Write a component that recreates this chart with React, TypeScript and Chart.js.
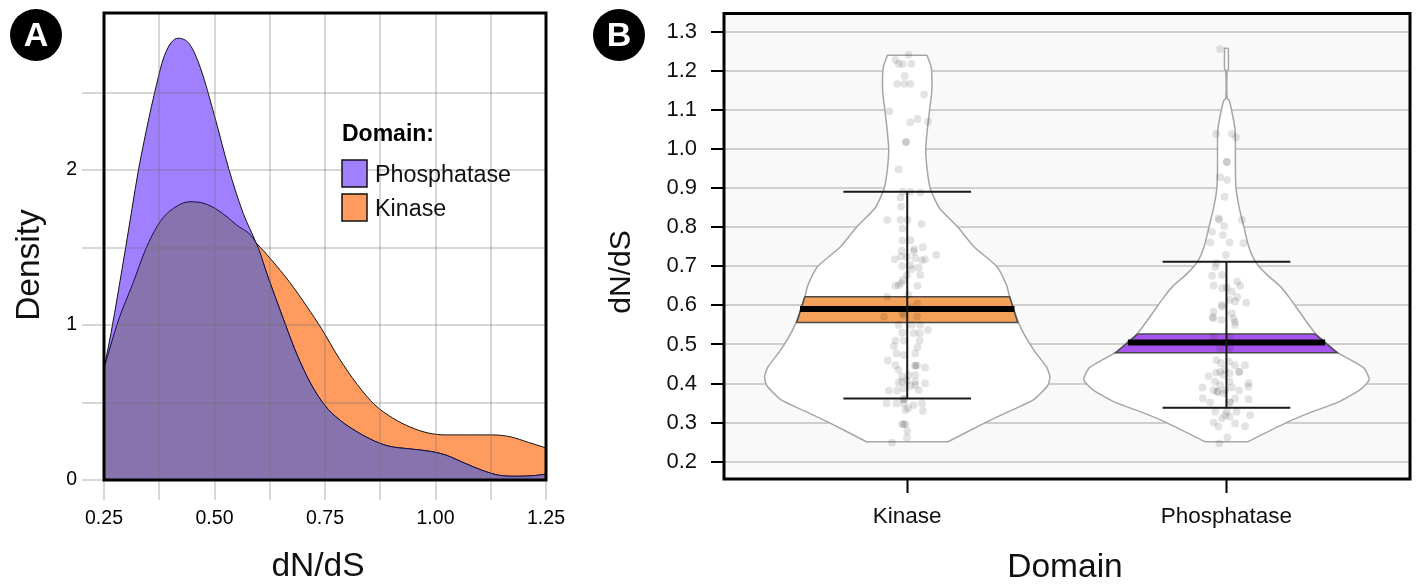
import React, { useEffect, useRef } from "react";
import { Chart, registerables } from "chart.js";

Chart.register(...registerables);

const FONT = '"Liberation Sans", Arial, sans-serif';

// Panel A: density curves
const phosphataseX = [0.25, 0.266, 0.299, 0.328, 0.341, 0.363, 0.387, 0.417, 0.444, 0.468, 0.5, 0.532, 0.565, 0.594, 0.621, 0.653, 0.685, 0.718, 0.75, 0.782, 0.823, 0.863, 0.895, 0.944, 0.992, 1.024, 1.065, 1.105, 1.145, 1.185, 1.226, 1.25];
const phosphataseDensity = [0.72, 0.95, 1.5, 2.0, 2.19, 2.48, 2.74, 2.85, 2.81, 2.66, 2.35, 2.01, 1.72, 1.53, 1.31, 1.06, 0.82, 0.62, 0.48, 0.39, 0.31, 0.25, 0.218, 0.2, 0.183, 0.16, 0.11, 0.063, 0.03, 0.024, 0.029, 0.038];
const kinaseX = [0.25, 0.282, 0.315, 0.347, 0.379, 0.411, 0.444, 0.476, 0.508, 0.548, 0.594, 0.629, 0.669, 0.71, 0.742, 0.782, 0.823, 0.863, 0.903, 0.944, 0.984, 1.024, 1.065, 1.129, 1.169, 1.21, 1.25];
const kinaseDensity = [0.72, 1.025, 1.266, 1.507, 1.675, 1.76, 1.795, 1.785, 1.74, 1.65, 1.53, 1.42, 1.28, 1.115, 0.977, 0.785, 0.616, 0.484, 0.4, 0.34, 0.303, 0.291, 0.291, 0.291, 0.279, 0.243, 0.207];
const crossingX = 0.594;
const densityXTicks = [0.25, 0.375, 0.5, 0.625, 0.75, 0.875, 1.0, 1.125, 1.25];
const densityYTicks = [0, 0.5, 1, 1.5, 2, 2.5];
const legendTitle = "Domain:";
const legendLabels = ["Phosphatase", "Kinase"];

// Panel B: violins
const categories = ["Kinase", "Phosphatase"];
const ratioTicks = [0.2, 0.3, 0.4, 0.5, 0.6, 0.7, 0.8, 0.9, 1.0, 1.1, 1.2, 1.3];
const kinaseViolinY = [1.24, 1.21, 1.15, 1.1, 1.05, 1.0, 0.95, 0.9, 0.85, 0.8, 0.75, 0.7, 0.65, 0.62, 0.5455, 0.486, 0.443, 0.4175, 0.395, 0.358, 0.33, 0.302, 0.251];
const kinaseViolinW = [0.062, 0.075, 0.077, 0.07, 0.063, 0.058, 0.062, 0.072, 0.1, 0.159, 0.209, 0.28, 0.312, 0.321, 0.354, 0.396, 0.436, 0.447, 0.44, 0.395, 0.322, 0.249, 0.128];
const phosphataseViolinY = [1.258, 1.205, 1.2, 1.13, 1.125, 1.1, 1.05, 1.0, 0.95, 0.9, 0.85, 0.8, 0.75, 0.71, 0.68, 0.65, 0.62, 0.53, 0.48, 0.44, 0.41, 0.385, 0.353, 0.328, 0.302, 0.251];
const phosphataseViolinW = [0.006, 0.006, 0.002, 0.002, 0.008, 0.016, 0.027, 0.028, 0.028, 0.03, 0.04, 0.055, 0.07, 0.092, 0.125, 0.167, 0.197, 0.277, 0.347, 0.43, 0.447, 0.42, 0.352, 0.27, 0.193, 0.066];

const kinaseBand = { top: 0.622, bottom: 0.556, mean: 0.591, topW: 0.321, bottomW: 0.346, meanW: 0.336 };
const phosphataseBand = { top: 0.527, bottom: 0.479, mean: 0.505, topW: 0.277, bottomW: 0.347, meanW: 0.309 };
const kinaseWhisker = { high: 0.891, low: 0.362, cap: 0.2 };
const phosphataseWhisker = { high: 0.712, low: 0.338, cap: 0.2 };

const kinaseDots = [
  [-0.001, 1.241], [-0.042, 1.228], [-0.032, 1.218], [-0.019, 1.218], [0.008, 1.218], [-0.013, 1.187], [-0.037, 1.167], [-0.014, 1.167], [0.005, 1.167], [0.048, 1.14], [-0.061, 1.097], [0.004, 1.069], [0.027, 1.077], [0.06, 1.07], [-0.009, 1.018], [-0.009, 1.018], [-0.032, 0.948], [-0.019, 0.891], [0.005, 0.891], [0.036, 0.889], [-0.026, 0.876], [-0.024, 0.853],
  [-0.068, 0.819], [-0.026, 0.819], [-0.004, 0.819], [0.04, 0.808], [-0.02, 0.797], [-0.02, 0.766], [0.005, 0.767], [0.044, 0.749], [-0.022, 0.74], [0.017, 0.744], [0.015, 0.738], [0.086, 0.729], [-0.044, 0.718], [-0.024, 0.725], [-0.006, 0.724], [0.02, 0.721], [0.051, 0.718], [0.041, 0.716], [-0.021, 0.701], [0.005, 0.703], [0.031, 0.697], [0.01, 0.693], [0.036, 0.678], [-0.006, 0.678], [-0.018, 0.665], [-0.024, 0.657], [-0.042, 0.65], [-0.032, 0.652], [0.027, 0.65], [-0.001, 0.627], [-0.068, 0.622], [0.026, 0.605], [-0.016, 0.575], [-0.078, 0.571], [0.026, 0.571], [-0.021, 0.58], [0.005, 0.595],
  [-0.032, 0.55], [0.01, 0.55], [0.036, 0.55], [-0.021, 0.53], [0.015, 0.529], [0.06, 0.537], [0.034, 0.529], [-0.042, 0.51], [0.034, 0.51], [-0.047, 0.496], [-0.016, 0.51], [0.027, 0.493], [-0.039, 0.477], [-0.016, 0.473], [0.02, 0.477], [-0.066, 0.459], [-0.042, 0.447], [0.02, 0.446], [0.026, 0.446], [0.02, 0.446], [0.051, 0.441], [-0.032, 0.435], [-0.021, 0.418], [-0.001, 0.422], [0.02, 0.422], [-0.032, 0.402], [-0.021, 0.405], [-0.006, 0.407], [0.02, 0.405], [0.051, 0.401], [0.005, 0.394], [-0.063, 0.382], [-0.037, 0.382], [-0.016, 0.388], [0.031, 0.383], [0.02, 0.396], [-0.016, 0.36], [-0.016, 0.36], [-0.07, 0.349], [-0.039, 0.349], [-0.016, 0.349], [0.015, 0.345], [0.041, 0.349], [-0.011, 0.332], [-0.002, 0.337], [0.044, 0.33], [-0.021, 0.296], [-0.011, 0.296], [-0.016, 0.296], [-0.005, 0.279], [-0.006, 0.262], [-0.053, 0.249],
];
const phosphataseDots = [
  [-0.03, 1.256], [-0.042, 1.039], [0.007, 1.039], [0.02, 1.03], [-0.009, 0.967], [-0.009, 0.967], [-0.03, 0.928], [-0.008, 0.921], [-0.016, 0.878], [-0.035, 0.823],
  [-0.032, 0.819], [-0.017, 0.803], [0.038, 0.819], [-0.055, 0.789], [-0.021, 0.78], [-0.061, 0.761], [0, 0.761], [0.043, 0.759], [-0.012, 0.729], [-0.042, 0.708], [-0.045, 0.698], [-0.055, 0.676], [-0.024, 0.678], [0.024, 0.661], [-0.05, 0.651], [0.033, 0.65], [-0.024, 0.644], [-0.009, 0.646], [0.007, 0.635], [0.024, 0.621], [0, 0.614], [0.017, 0.61], [0.052, 0.607], [-0.024, 0.601], [-0.024, 0.597], [-0.05, 0.584], [0.007, 0.58], [-0.052, 0.567], [-0.026, 0.563], [0.012, 0.567], [0.017, 0.558], [0.017, 0.55], [-0.052, 0.57],
  [-0.05, 0.52], [0, 0.52], [-0.03, 0.49], [0, 0.49], [-0.014, 0.503], [-0.042, 0.46], [-0.027, 0.452], [-0.002, 0.456], [0.017, 0.447], [0.048, 0.447], [-0.014, 0.436], [0.03, 0.43], [0.03, 0.43], [-0.042, 0.428], [0, 0.426], [-0.066, 0.419], [-0.03, 0.43], [-0.019, 0.422], [-0.045, 0.405], [0, 0.405], [0.059, 0.401], [-0.03, 0.396], [-0.085, 0.39], [-0.05, 0.383], [-0.038, 0.379], [-0.038, 0.379], [0.03, 0.382], [0.007, 0.39], [-0.014, 0.383], [0.059, 0.392], [-0.084, 0.362], [0.017, 0.362], [0.059, 0.36], [-0.061, 0.352], [0, 0.352], [0, 0.352], [-0.019, 0.375], [-0.045, 0.328], [-0.009, 0.328], [0.022, 0.328], [0, 0.315], [-0.024, 0.311], [0.064, 0.319], [-0.05, 0.3], [-0.035, 0.29], [0.017, 0.298], [0.048, 0.291], [-0.007, 0.262], [-0.032, 0.247], [-0.014, 0.319],
];
const kinaseDotCentre = 1.005;
const phosphataseDotCentre = 2.01;

const PURPLE = "#a080ff";
const ORANGE = "#ff9b5f";
const OVERLAP = "#8773ae";

const zip = (xs: number[], ys: number[]) => xs.map((x, i) => ({ x, y: ys[i] }));

function drawBadge(ctx: any, x: number, y: number, letter: string) {
  ctx.save();
  ctx.fillStyle = "#000";
  ctx.beginPath();
  ctx.arc(x, y, 26, 0, Math.PI * 2);
  ctx.fill();
  ctx.fillStyle = "#fff";
  ctx.font = `bold 34px ${FONT}`;
  ctx.textAlign = "center";
  ctx.textBaseline = "middle";
  ctx.fillText(letter, x, y + 2);
  ctx.restore();
}

function drawTitle(ctx: any, text: string, x: number, y: number, size: number, rotated: boolean) {
  ctx.save();
  ctx.translate(x, y);
  if (rotated) ctx.rotate(-Math.PI / 2);
  ctx.fillStyle = "#111";
  ctx.font = `${size}px ${FONT}`;
  ctx.textAlign = "center";
  ctx.textBaseline = "middle";
  ctx.fillText(text, 0, 0);
  ctx.restore();
}

function drawFrame(chart: any, width: number) {
  const { ctx, chartArea: a } = chart;
  ctx.save();
  ctx.strokeStyle = "#000";
  ctx.lineWidth = width;
  ctx.strokeRect(a.left, a.top, a.right - a.left, a.bottom - a.top);
  ctx.restore();
}

function fixHeight(h: number) {
  return (s: any) => {
    s.height = h;
    s.paddingLeft = 0;
    s.paddingRight = 0;
  };
}
function fixWidth(w: number) {
  return (s: any) => {
    s.width = w;
    s.paddingTop = 0;
    s.paddingBottom = 0;
  };
}

function buildA(canvas: HTMLCanvasElement) {
  const phos = zip(phosphataseX, phosphataseDensity);
  const kin = zip(kinaseX, kinaseDensity);
  const overlap = [...kin.filter((p) => p.x <= crossingX), ...phos.filter((p) => p.x > crossingX)];
  const common = {
    pointRadius: 0,
    borderColor: "#111",
    borderWidth: 1,
    fill: "origin",
    cubicInterpolationMode: "monotone",
  };
  const annotate = {
    id: "panelA",
    afterDraw(chart: any) {
      const { ctx } = chart;
      drawFrame(chart, 3);
      drawBadge(ctx, 36, 35, "A");
      drawTitle(ctx, "Density", 30, 265, 33.5, true);
      drawTitle(ctx, "dN/dS", 318, 567, 33.5, false);
      ctx.save();
      ctx.fillStyle = "#000";
      ctx.font = `bold 23px ${FONT}`;
      ctx.textBaseline = "alphabetic";
      ctx.fillText(legendTitle, 342, 141);
      const swatches = [PURPLE, ORANGE];
      legendLabels.forEach((label, i) => {
        const top = 160 + i * 34;
        ctx.fillStyle = swatches[i];
        ctx.fillRect(342, top, 25, 27);
        ctx.strokeStyle = "#111";
        ctx.lineWidth = 1.5;
        ctx.strokeRect(342, top, 25, 27);
        ctx.fillStyle = "#111";
        ctx.font = `23.3px ${FONT}`;
        ctx.fillText(label, 375, top + 22);
      });
      ctx.restore();
    },
  };
  return new Chart(canvas, {
    type: "line",
    plugins: [annotate],
    data: {
      datasets: [
        { label: "Overlap", data: overlap, backgroundColor: OVERLAP, order: 1, ...common, borderColor: "#14104a" },
        { label: legendLabels[0], data: phos, backgroundColor: PURPLE, order: 2, ...common },
        { label: legendLabels[1], data: kin, backgroundColor: ORANGE, order: 3, ...common },
      ],
    } as any,
    options: {
      animation: false,
      responsive: false,
      devicePixelRatio: 1,
      layout: { padding: { top: 13, right: 34, left: 0, bottom: 0 } },
      plugins: { legend: { display: false }, tooltip: { enabled: false } },
      scales: {
        x: {
          type: "linear",
          min: 0.25,
          max: 1.25,
          afterFit: fixHeight(104),
          afterBuildTicks: (s: any) => { s.ticks = densityXTicks.map((value) => ({ value })); },
          grid: { color: "rgba(110,110,110,0.28)", lineWidth: 2, tickColor: "rgba(110,110,110,0.28)", tickLength: 20, z: 1 },
          border: { display: false },
          ticks: {
            autoSkip: false,
            maxRotation: 0,
            padding: 7,
            color: "#000",
            font: { family: FONT, size: 19.5 },
            callback: (v: any) => (Math.round(Number(v) * 1000) % 250 === 0 ? Number(v).toFixed(2) : ""),
          },
        },
        y: {
          type: "linear",
          min: 0,
          max: 3.013,
          afterFit: fixWidth(104),
          afterBuildTicks: (s: any) => { s.ticks = densityYTicks.map((value) => ({ value })); },
          grid: { color: "rgba(110,110,110,0.28)", lineWidth: 2, tickColor: "rgba(110,110,110,0.28)", tickLength: 22, z: 1 },
          border: { display: false },
          ticks: {
            autoSkip: false,
            padding: 5,
            color: "#000",
            font: { family: FONT, size: 19.5 },
            callback: (v: any) => (Number.isInteger(Number(v)) ? String(v) : ""),
          },
        },
      },
    } as any,
  });
}

function violinPolygon(center: number, ys: number[], ws: number[]) {
  const right = ys.map((y, i) => ({ x: center + ws[i], y }));
  const left = ys.map((y, i) => ({ x: center - ws[i], y })).reverse();
  const last = right[right.length - 1];
  return [right[0], ...right, last, left[0], ...left, left[left.length - 1], right[0]];
}

function bandPolygon(center: number, b: any) {
  return [
    { x: center - b.topW, y: b.top },
    { x: center + b.topW, y: b.top },
    { x: center + b.bottomW, y: b.bottom },
    { x: center - b.bottomW, y: b.bottom },
    { x: center - b.topW, y: b.top },
  ];
}

function whiskerPath(center: number, w: any) {
  return [
    { x: center - w.cap, y: w.high },
    { x: center + w.cap, y: w.high },
    { x: center, y: w.high },
    { x: center, y: w.low },
    { x: center - w.cap, y: w.low },
    { x: center + w.cap, y: w.low },
  ];
}

function buildB(canvas: HTMLCanvasElement) {
  const panel = {
    id: "panelB",
    beforeDraw(chart: any) {
      const { ctx, chartArea: a } = chart;
      ctx.save();
      ctx.fillStyle = "#f9f9f9";
      ctx.fillRect(a.left, a.top, a.right - a.left, a.bottom - a.top);
      ctx.restore();
    },
    afterDraw(chart: any) {
      const { ctx } = chart;
      drawFrame(chart, 3);
      drawBadge(ctx, 39, 35, "B");
      drawTitle(ctx, "dN/dS", 42, 272, 30, true);
      drawTitle(ctx, "Domain", 485, 568, 33.5, false);
    },
  };
  const line = { pointRadius: 0, tension: 0 };
  const groups = [
    { center: 1, dotCentre: kinaseDotCentre, ys: kinaseViolinY, ws: kinaseViolinW, band: kinaseBand, whisk: kinaseWhisker, dots: kinaseDots, color: "#f4a259", name: categories[0] },
    { center: 2, dotCentre: phosphataseDotCentre, ys: phosphataseViolinY, ws: phosphataseViolinW, band: phosphataseBand, whisk: phosphataseWhisker, dots: phosphataseDots, color: "#a855f0", name: categories[1] },
  ];
  const datasets: any[] = [];
  groups.forEach((g) => {
    datasets.push({ label: g.name + " violin", data: violinPolygon(g.center, g.ys, g.ws), fill: "shape", backgroundColor: "#ffffff", borderColor: "#a6a6a6", borderWidth: 1.5, order: 6, pointRadius: 0, tension: 0.2 });
    datasets.push({ label: g.name + " CI", data: bandPolygon(g.center, g.band), fill: "shape", backgroundColor: g.color, borderColor: "#4a4a4a", borderWidth: 1.5, order: 5, ...line });
    datasets.push({
      label: g.name + " mean",
      data: [{ x: g.center - g.band.meanW, y: g.band.mean }, { x: g.center + g.band.meanW, y: g.band.mean }],
      borderColor: "#000",
      borderWidth: 6,
      fill: false,
      order: 4,
      ...line,
    });
    datasets.push({ label: g.name + " range", data: whiskerPath(g.center, g.whisk), borderColor: "#1a1a1a", borderWidth: 2, fill: false, order: 3, ...line });
    datasets.push({
      type: "scatter",
      label: g.name + " genes",
      data: g.dots.map(([j, y]) => ({ x: g.dotCentre + j, y })),
      backgroundColor: "rgba(0,0,0,0.11)",
      borderWidth: 0,
      pointRadius: 3.9,
      order: 2,
    });
  });
  return new Chart(canvas, {
    type: "line",
    plugins: [panel],
    data: { datasets },
    options: {
      animation: false,
      responsive: false,
      devicePixelRatio: 1,
      layout: { padding: { top: 13.5, right: 6, left: 0, bottom: 0 } },
      plugins: { legend: { display: false }, tooltip: { enabled: false } },
      scales: {
        x: {
          type: "linear",
          min: 0.426,
          max: 2.575,
          afterFit: fixHeight(105),
          afterBuildTicks: (s: any) => { s.ticks = [{ value: 1 }, { value: 2 }]; },
          grid: { drawOnChartArea: false, tickColor: "#000", tickWidth: 2, tickLength: 14 },
          border: { display: false },
          ticks: {
            autoSkip: false,
            maxRotation: 0,
            padding: 10,
            color: "#111",
            font: { family: FONT, size: 22.5 },
            callback: (v: any) => categories[Number(v) - 1],
          },
        },
        y: {
          type: "linear",
          min: 0.1557,
          max: 1.347,
          afterFit: fixWidth(144),
          afterBuildTicks: (s: any) => { s.ticks = ratioTicks.map((value) => ({ value })); },
          grid: { color: "#cfcfcf", lineWidth: 2, tickColor: "#000", tickWidth: 2, tickLength: 13 },
          border: { display: false },
          ticks: {
            autoSkip: false,
            padding: 14,
            color: "#111",
            font: { family: FONT, size: 22 },
            callback: (v: any) => Number(v).toFixed(1),
          },
        },
      },
    } as any,
  });
}

export default function App() {
  const aRef = useRef<HTMLCanvasElement>(null);
  const bRef = useRef<HTMLCanvasElement>(null);
  useEffect(() => {
    document.body.style.margin = "0";
    document.body.style.background = "#fff";
    const a = buildA(aRef.current!);
    const b = buildB(bRef.current!);
    return () => {
      a.destroy();
      b.destroy();
    };
  }, []);
  return (
    <div style={{ position: "absolute", left: 0, top: 0, width: 1416, height: 584, overflow: "hidden", background: "#fff" }}>
      <canvas ref={aRef} width={580} height={584} style={{ position: "absolute", left: 0, top: 0 }} />
      <canvas ref={bRef} width={836} height={584} style={{ position: "absolute", left: 580, top: 0 }} />
    </div>
  );
}
